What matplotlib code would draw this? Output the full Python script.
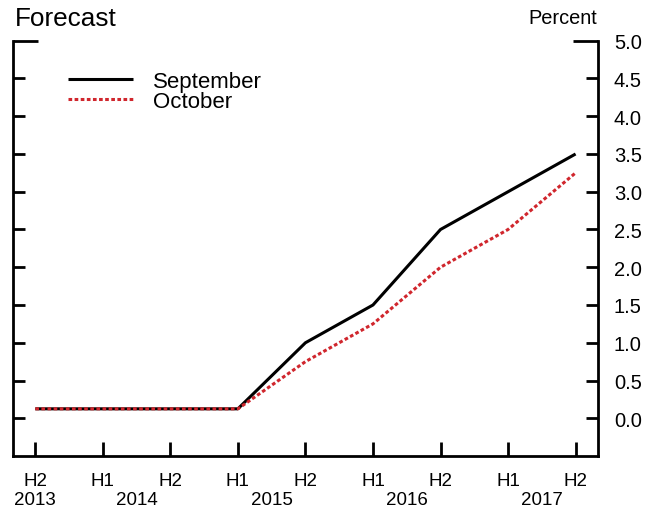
import numpy as np
import matplotlib.pyplot as plt
from matplotlib import transforms

plt.rcParams['font.family'] = ['Liberation Sans', 'DejaVu Sans']

# half-year periods, H2 2013 .. H2 2017
halves = ["H2", "H1", "H2", "H1", "H2", "H1", "H2", "H1", "H2"]
years = ["2013", "2014", "2015", "2016", "2017"]
year_pos = [0, 1.5, 3.5, 5.5, 7.5]
september = [0.125, 0.125, 0.125, 0.125, 1.0, 1.5, 2.5, 3.0, 3.5]
october = [0.125, 0.125, 0.125, 0.125, 0.75, 1.25, 2.0, 2.5, 3.25]

x = np.arange(len(halves))

fig = plt.figure(figsize=(6.57, 5.10), dpi=100)
ax = fig.add_axes([0.0198, 0.1039, 0.8902, 0.8143])

ax.plot(x, september, color="black", lw=2.2, label="September", solid_capstyle="butt")
ax.plot(x, october, color="#d0262d", lw=2.2, ls=(0, (1.2, 0.8)), label="October")

ax.set_xlim(-0.33, 8.33)
ax.set_ylim(-0.5, 5.0)

ax.spines["top"].set_visible(False)
for s in ["left", "right", "bottom"]:
    ax.spines[s].set_linewidth(2)

ax.set_xticks(x)
ax.set_xticklabels(halves, fontsize=13.5)
ax.tick_params(axis="x", direction="in", length=10, width=2, pad=11.5)

minor = np.arange(0, 5.0, 0.5)
ax.set_yticks([5.0])
ax.set_yticks(minor, minor=True)
ax.set_yticklabels(["5.0"])
ax.set_yticklabels(["%.1f" % v for v in minor], minor=True)
ax.tick_params(axis="y", which="both", direction="in", left=True, right=True,
               labelleft=False, labelright=True, labelsize=14.5, width=2, pad=11.5)
ax.tick_params(axis="y", which="major", length=18)
ax.tick_params(axis="y", which="minor", length=8.6)

trans = transforms.blended_transform_factory(ax.transData, ax.transAxes)
for yr, p in zip(years, year_pos):
    ax.text(p, -0.104, yr, transform=trans, ha="center", va="center", fontsize=13.5)

fig.text(15 / 657, 1 - 18.5 / 510, "Forecast", ha="left", va="center", fontsize=18.8)
fig.text(597 / 657, 1 - 19 / 510, "Percent", ha="right", va="center", fontsize=14.4)

ax.legend(loc="upper left", bbox_to_anchor=(0.094, 0.928), frameon=False, fontsize=16,
          handlelength=2.93, handletextpad=0.9, labelspacing=-0.05, borderpad=0,
          borderaxespad=0)

fig.savefig("out.png", dpi=100)
